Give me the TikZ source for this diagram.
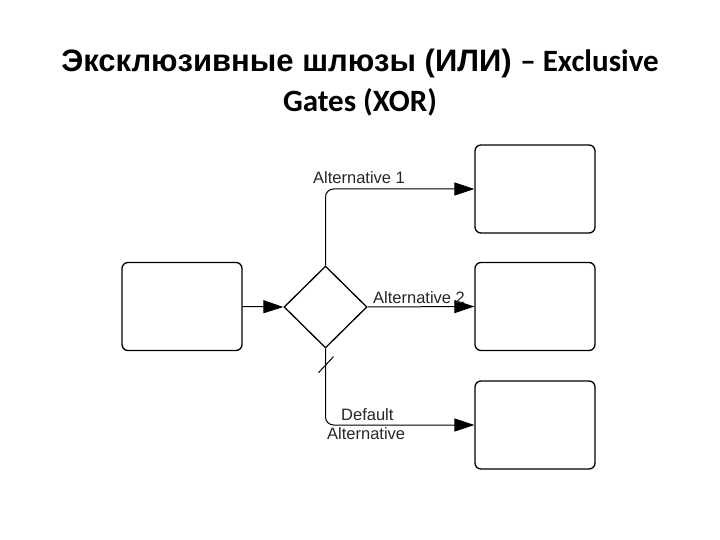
\documentclass[tikz,border=0pt]{standalone}
\usepackage{fontspec}
\setmainfont{Liberation Sans}
\newfontfamily\calibri{Carlito}
\usetikzlibrary{shapes.geometric,arrows.meta}
\tikzset{
  box/.style={draw, line width=1.3pt, rounded corners=6pt, minimum width=120pt, minimum height=88pt, inner sep=0pt},
  gate/.style={draw, line width=1.3pt, diamond, minimum width=83pt, minimum height=82pt, inner sep=0pt},
  conn/.style={line width=1pt, rounded corners=8pt, -{Triangle[length=20pt,width=13pt]}},
  lbl/.style={font=\fontsize{16.5}{19}\selectfont, text=black!85, inner sep=0pt, anchor=base west},
}
\begin{document}
\begin{tikzpicture}[x=1pt,y=-1pt]
\useasboundingbox (0,0) rectangle (720,540);
\node[anchor=base, inner sep=0pt, font=\fontsize{31}{37}\selectfont\bfseries] (t1) at (360,72) {Эксклюзивные шлюзы (ИЛИ) {\calibri – Exclusive}};
\node[anchor=base, inner sep=0pt, font=\fontsize{31}{37}\selectfont\bfseries\calibri] (t2) at (360,112) {Gates (XOR)};
\node[box] (a) at (182,306.5) {};
\node[gate] (g) at (325.5,307) {};
\node[box] (b1) at (535,189) {};
\node[box] (b2) at (535,306.5) {};
\node[box] (b3) at (535,425) {};
\draw[conn] (a.east) -- (g.west);
\draw[conn] (g.north) |- (b1.west);
\draw[conn] (g.east) -- (b2.west);
\draw[conn] (g.south) |- (b3.west);
\coordinate (s1) at ([shift={(-7,24)}]g.south);
\coordinate (s2) at ([shift={(8,8)}]g.south);
\draw[line width=1pt] (s1) -- (s2);
\node[lbl] (l1) at (313,184) {Alternative 1};
\node[lbl] (l2) at (373,303) {Alternative 2};
\node[lbl] (l3) at (341,420) {Default};
\node[lbl] (l4) at (327,439) {Alternative};
\end{tikzpicture}
\end{document}
